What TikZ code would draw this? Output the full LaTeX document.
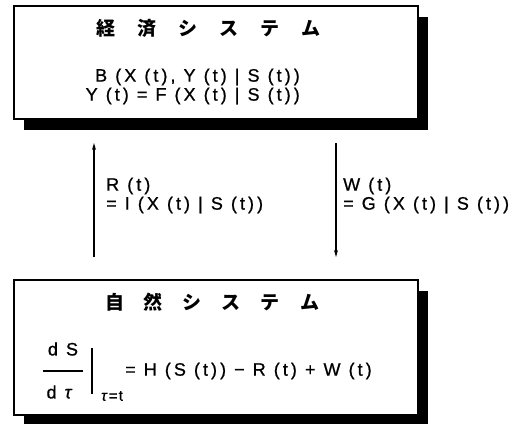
\documentclass[tikz,border=0pt]{standalone}
\usepackage{fontspec}
\setmainfont{Liberation Sans}
\newfontfamily\jp{Noto Sans CJK JP}
\newfontfamily\eqf[LetterSpace=17,FakeBold=0.8]{Liberation Sans}
\newfontfamily\subf[LetterSpace=8,FakeBold=0.8]{Liberation Sans}
\usetikzlibrary{arrows.meta}
\begin{document}
\begin{tikzpicture}[x=1pt,y=-1pt,
  box/.style={draw=black,line width=1.6pt,fill=white,anchor=north west,inner sep=0},
  shadowbox/.style={fill=black},
  titletext/.style={font=\jp\bfseries\fontsize{19}{19}\selectfont,inner sep=0},
  eqtext/.style={font=\eqf\fontsize{18}{20}\selectfont,inner sep=0},
  subtext/.style={font=\subf\fontsize{15}{16}\selectfont,inner sep=0},
  arr/.style={line width=1.5pt,-{Stealth[length=7pt,width=4pt]}},
  thin/.style={line width=1.3pt}]
\useasboundingbox (0,0) rectangle (529,424);
% economic system
\fill[shadowbox] (24,17) rectangle (428,130);
\node[box,minimum width=404pt,minimum height=113pt] (econ) at (13,5) {};
\node[titletext] (econtitle) at (208.5,28) {経\hspace{22pt}済\hspace{22pt}シ\hspace{22pt}ス\hspace{22pt}テ\hspace{22pt}ム};
\node[eqtext,anchor=east] (eqB) at (300,77) {B (X (t), Y (t) | S (t))};
\node[eqtext,anchor=east] (eqY) at (300,96) {Y (t) = F (X (t) | S (t))};
% natural system
\fill[shadowbox] (24,291) rectangle (428,424);
\node[box,minimum width=404pt,minimum height=135pt] (nat) at (13,279) {};
\node[titletext] (nattitle) at (212,302) {自\hspace{20pt}然\hspace{20pt}シ\hspace{20pt}ス\hspace{20pt}テ\hspace{20pt}ム};
\node[eqtext] (dS) at (63,349) {d S};
\node[eqtext] (dtau) at (61,392) {d \textit{τ}};
\coordinate (fracL) at (43,371);
\coordinate (fracR) at (83,371);
\draw[thin] (fracL) -- (fracR);
\coordinate (barT) at (92,348);
\coordinate (barB) at (92,394);
\draw[thin] (barT) -- (barB);
\node[subtext,anchor=west] (sub) at (101,396) {\textit{τ}=t};
\node[eqtext,anchor=west] (eqH) at (125,371) {= H (S (t)) − R (t) + W (t)};
% arrows
\coordinate (Rs) at (94,257);
\coordinate (Re) at (94,143);
\coordinate (Ws) at (336,143);
\coordinate (We) at (336,257);
\draw[arr] (Rs) -- (Re);
\draw[arr] (Ws) -- (We);
\node[eqtext,anchor=west] (R1) at (106,186) {R (t)};
\node[eqtext,anchor=west] (R2) at (106,205) {= I (X (t) | S (t))};
\node[eqtext,anchor=west] (W1) at (343,186) {W (t)};
\node[eqtext,anchor=west] (W2) at (343,205) {= G (X (t) | S (t))};
\end{tikzpicture}
\end{document}
